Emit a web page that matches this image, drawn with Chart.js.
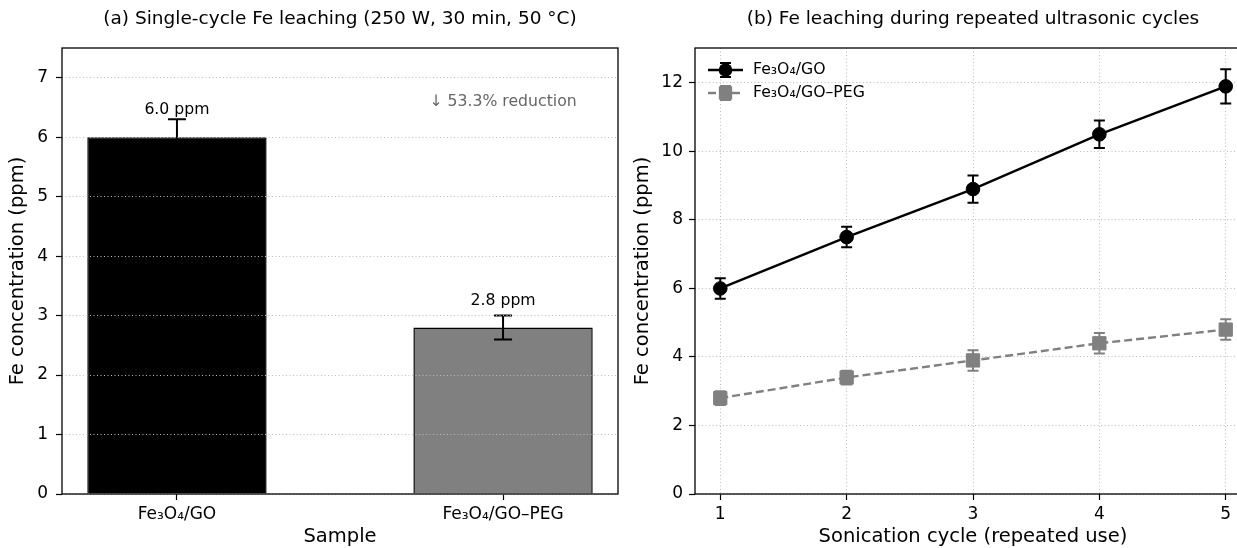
<!DOCTYPE html>
<html><head><meta charset="utf-8">
<script src="https://cdn.jsdelivr.net/npm/chart.js@4"></script>
<style>
html,body{margin:0;padding:0;overflow:hidden;background:#fff;width:1237px;height:548px;}
#wa{position:absolute;left:0;top:0;width:620px;height:548px;}
#wb{position:absolute;left:620px;top:0;width:645px;height:548px;}
canvas{display:block;}
</style></head>
<body>
<div id="wa"><canvas id="ca" width="620" height="548"></canvas></div>
<div id="wb"><canvas id="cb" width="645" height="548"></canvas></div>
<script>
// ---- data ----
const sampleLabels = ['Fe\u2083O\u2084/GO', 'Fe\u2083O\u2084/GO\u2013PEG'];
const singleValues = [6.0, 2.8];
const singleErrors = [0.3, 0.2];
const barLabels = ['6.0 ppm', '2.8 ppm'];
const reductionText = '\u2193 53.3% reduction';
const reductionPos = [1, 6.6];
const labelOffset = 0.32;
const leftYTicks = [0, 1, 2, 3, 4, 5, 6, 7];
const leftXTicks = [0, 1];

const cycles = [1, 2, 3, 4, 5];
const seriesNames = ['Fe\u2083O\u2084/GO', 'Fe\u2083O\u2084/GO\u2013PEG'];
const goValues = [6.0, 7.5, 8.9, 10.5, 11.9];
const goErrors = [0.3, 0.3, 0.4, 0.4, 0.5];
const pegValues = [2.8, 3.4, 3.9, 4.4, 4.8];
const pegErrors = [0.2, 0.2, 0.3, 0.3, 0.3];
const rightYTicks = [0, 2, 4, 6, 8, 10, 12];
const rightXTicks = [1, 2, 3, 4, 5];

const titleA = '(a) Single-cycle Fe leaching (250 W, 30 min, 50 \u00B0C)';
const titleB = '(b) Fe leaching during repeated ultrasonic cycles';
const yTitle = 'Fe concentration (ppm)';
const xTitleA = 'Sample';
const xTitleB = 'Sonication cycle (repeated use)';

// ---- styling ----
const FONT = 'DejaVu Sans';
const GRID = '#bdbdbd';
Chart.defaults.font.family = FONT;
Chart.defaults.color = '#000';

function drawErrors(chart) {
  const ctx = chart.ctx, xs = chart.scales.x, ys = chart.scales.y;
  chart.data.datasets.forEach(ds => {
    if (!ds.errors) return;
    ctx.save();
    ctx.strokeStyle = ds.errorColor;
    ctx.lineWidth = ds.errorWidth;
    ds.data.forEach((p, i) => {
      const x = xs.getPixelForValue(p.x);
      const y1 = ys.getPixelForValue(p.y - ds.errors[i]);
      const y2 = ys.getPixelForValue(p.y + ds.errors[i]);
      const c = ds.capHalf;
      ctx.beginPath();
      ctx.moveTo(x, y1); ctx.lineTo(x, y2);
      ctx.moveTo(x - c, y1); ctx.lineTo(x + c, y1);
      ctx.moveTo(x - c, y2); ctx.lineTo(x + c, y2);
      ctx.stroke();
    });
    ctx.restore();
  });
}
const errorBarPlugin = {
  id: 'errorBars',
  beforeDatasetsDraw(chart, a, o) { if (o.under) drawErrors(chart); },
  afterDatasetsDraw(chart, a, o) { if (!o.under) drawErrors(chart); }
};
const framePlugin = {
  id: 'frame',
  afterDraw(chart) {
    const ctx = chart.ctx, a = chart.chartArea;
    ctx.save();
    ctx.strokeStyle = '#000';
    ctx.lineWidth = 1.3;
    ctx.strokeRect(a.left, a.top, a.right - a.left, a.bottom - a.top);
    ctx.restore();
  }
};
const barTextPlugin = {
  id: 'barText',
  afterDraw(chart) {
    const ctx = chart.ctx, xs = chart.scales.x, ys = chart.scales.y;
    ctx.save();
    ctx.font = '15.7px "' + FONT + '"';
    ctx.textAlign = 'center';
    ctx.textBaseline = 'bottom';
    ctx.fillStyle = '#000';
    singleValues.forEach((v, i) => {
      ctx.fillText(barLabels[i], xs.getPixelForValue(i), ys.getPixelForValue(v + labelOffset));
    });
    ctx.fillStyle = '#666';
    ctx.textBaseline = 'middle';
    ctx.fillText(reductionText, xs.getPixelForValue(reductionPos[0]), ys.getPixelForValue(reductionPos[1]));
    ctx.restore();
  }
};
const legendPlugin = {
  id: 'inlineLegend',
  afterDraw(chart, args, o) {
    const ctx = chart.ctx, a = chart.chartArea;
    chart.data.datasets.forEach((ds, i) => {
      const y = a.top + o.top + i * o.gap;
      const x0 = a.left + o.left, x1 = x0 + o.len, xm = (x0 + x1) / 2;
      ctx.save();
      ctx.strokeStyle = ds.borderColor;
      ctx.lineWidth = ds.borderWidth;
      ctx.setLineDash(ds.borderDash || []);
      ctx.beginPath(); ctx.moveTo(x0, y); ctx.lineTo(x1, y); ctx.stroke();
      ctx.setLineDash([]);
      ctx.strokeStyle = ds.errorColor;
      ctx.lineWidth = ds.errorWidth;
      const h = o.errHalf, c = ds.capHalf;
      ctx.beginPath();
      ctx.moveTo(xm, y - h); ctx.lineTo(xm, y + h);
      ctx.moveTo(xm - c, y - h); ctx.lineTo(xm + c, y - h);
      ctx.moveTo(xm - c, y + h); ctx.lineTo(xm + c, y + h);
      ctx.stroke();
      ctx.fillStyle = ds.pointBackgroundColor;
      if (ds.pointStyle === 'rect') {
        const s = ds.pointRadius * Math.SQRT1_2;
        ctx.fillRect(xm - s, y - s, 2 * s, 2 * s);
      } else {
        ctx.beginPath(); ctx.arc(xm, y, ds.pointRadius, 0, Math.PI * 2); ctx.fill();
      }
      ctx.fillStyle = '#000';
      ctx.font = '15.7px "' + FONT + '"';
      ctx.textAlign = 'left';
      ctx.textBaseline = 'middle';
      ctx.fillText(ds.label, a.left + o.textLeft, y);
      ctx.restore();
    });
  }
};

// ---- chart (a) ----
new Chart(document.getElementById('ca'), {
  type: 'bar',
  data: {
    datasets: [{
      data: singleValues.map((v, i) => ({x: i, y: v})),
      backgroundColor: ['#000000', '#808080'],
      borderColor: '#000000',
      borderWidth: 1.5,
      barPercentage: 0.55,
      categoryPercentage: 1,
      errors: singleErrors,
      errorColor: '#000', errorWidth: 2, capHalf: 9
    }]
  },
  options: {
    responsive: false, animation: false,
    layout: {padding: {left: 0, right: 2, top: 0, bottom: 0}},
    plugins: {
      legend: {display: false}, tooltip: {enabled: false},
      title: {display: true, fullSize: false, text: titleA, color: '#000',
        font: {size: 18.5, weight: 'normal', lineHeight: 1.2},
        padding: {top: 8, bottom: 17.8}},
      errorBars: {under: false}
    },
    scales: {
      x: {
        type: 'linear', min: -0.3525, max: 1.3525, offset: false,
        afterBuildTicks: s => { s.ticks = leftXTicks.map(v => ({value: v})); },
        afterFit: s => { s.height = 54; },
        ticks: {callback: (v, i) => sampleLabels[i], font: {size: 17}, color: '#000', padding: 4.8, maxRotation: 0, autoSkip: false},
        grid: {display: true, drawOnChartArea: false, offset: false, tickLength: 6, tickColor: '#000', tickWidth: 1.2},
        border: {display: false},
        title: {display: true, text: xTitleA, color: '#000', font: {size: 19.5, lineHeight: 1}, padding: {top: 0, bottom: 1}}
      },
      y: {
        min: 0, max: 7.5,
        afterBuildTicks: s => { s.ticks = leftYTicks.map(v => ({value: v})); },
        afterFit: s => { s.width = 62; },
        ticks: {font: {size: 17}, color: '#000', padding: 8},
        grid: {color: GRID, lineWidth: 1, tickLength: 6, tickColor: '#000', tickWidth: 1.2, tickBorderDash: [], z: 1},
        border: {display: false, dash: [1, 2.5]},
        title: {display: true, text: yTitle, color: '#000', font: {size: 19.5, lineHeight: 1}, padding: {top: 8, bottom: 0}}
      }
    }
  },
  plugins: [errorBarPlugin, barTextPlugin, framePlugin]
});

// ---- chart (b) ----
new Chart(document.getElementById('cb'), {
  type: 'line',
  data: {
    datasets: [{
      label: seriesNames[0],
      data: cycles.map((c, i) => ({x: c, y: goValues[i]})),
      borderColor: '#000000', borderWidth: 2.4, tension: 0,
      pointStyle: 'circle', pointRadius: 6.8, pointBackgroundColor: '#000000', pointBorderColor: '#000000', pointBorderWidth: 1,
      errors: goErrors, errorColor: '#000000', errorWidth: 2, capHalf: 5.5
    }, {
      label: seriesNames[1],
      data: cycles.map((c, i) => ({x: c, y: pegValues[i]})),
      borderColor: '#808080', borderWidth: 2.4, borderDash: [8, 4], tension: 0,
      pointStyle: 'rect', pointRadius: 9.4, pointBackgroundColor: '#808080', pointBorderColor: '#808080', pointBorderWidth: 1,
      errors: pegErrors, errorColor: '#808080', errorWidth: 2, capHalf: 5.5
    }]
  },
  options: {
    responsive: false, animation: false,
    layout: {padding: {left: 0, right: 14, top: 0, bottom: 0}},
    plugins: {
      legend: {display: false}, tooltip: {enabled: false},
      title: {display: true, fullSize: false, text: titleB, color: '#000',
        font: {size: 18.5, weight: 'normal', lineHeight: 1.2},
        padding: {top: 8, bottom: 17.8}},
      errorBars: {under: true},
      inlineLegend: {top: 22, gap: 23, left: 13, len: 35, textLeft: 58, errHalf: 7}
    },
    scales: {
      x: {
        type: 'linear', min: 0.8, max: 5.2,
        afterBuildTicks: s => { s.ticks = rightXTicks.map(v => ({value: v})); },
        afterFit: s => { s.height = 54; },
        ticks: {font: {size: 17}, color: '#000', padding: 4.8, maxRotation: 0, autoSkip: false},
        grid: {color: GRID, lineWidth: 1, tickLength: 6, tickColor: '#000', tickWidth: 1.2, tickBorderDash: []},
        border: {display: false, dash: [1, 2.5]},
        title: {display: true, text: xTitleB, color: '#000', font: {size: 19.5, lineHeight: 1}, padding: {top: 0, bottom: 1}}
      },
      y: {
        min: 0, max: 13.02,
        afterBuildTicks: s => { s.ticks = rightYTicks.map(v => ({value: v})); },
        afterFit: s => { s.width = 75; },
        ticks: {font: {size: 17}, color: '#000', padding: 6},
        grid: {color: GRID, lineWidth: 1, tickLength: 6, tickColor: '#000', tickWidth: 1.2, tickBorderDash: []},
        border: {display: false, dash: [1, 2.5]},
        title: {display: true, text: yTitle, color: '#000', font: {size: 19.5, lineHeight: 1}, padding: {top: 13.5, bottom: 0}}
      }
    }
  },
  plugins: [errorBarPlugin, legendPlugin, framePlugin]
});
</script>
</body></html>
